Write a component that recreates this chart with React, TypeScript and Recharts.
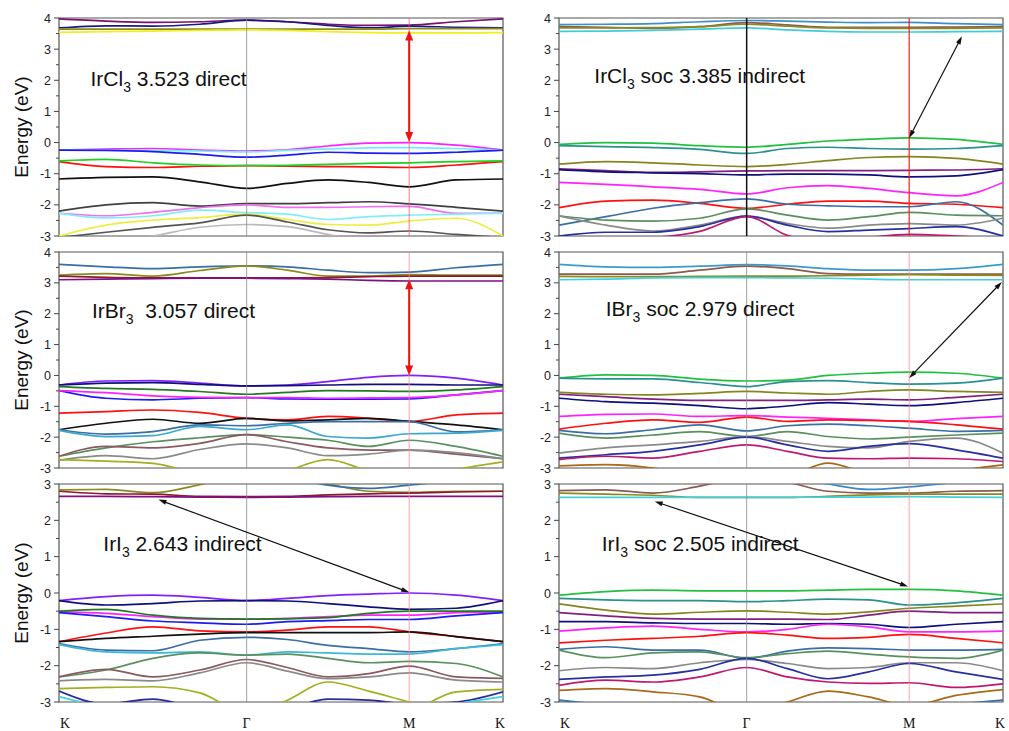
import React from 'react';
import { LineChart, Line, XAxis, YAxis, ReferenceLine, ReferenceArea } from 'recharts';

// k-path samples: K(0) -> Γ(1) -> M(1.866) -> K(2.366)
const K_PTS = [0, 0.25, 0.5, 0.75, 1, 1.217, 1.433, 1.65, 1.866, 2.116, 2.366];
const K_TICKS = [0, 1, 1.866, 2.366];
const K_LABELS = ['K', 'Γ', 'M', 'K'];
const Y_TICKS_TOP = [-3, -2.5, -2, -1.5, -1, -0.5, 0, 0.5, 1, 1.5, 2, 2.5, 3, 3.5, 4];
const Y_TICKS_BOT = [-3, -2.5, -2, -1.5, -1, -0.5, 0, 0.5, 1, 1.5, 2, 2.5, 3];

// ---------- IrCl3 ----------
const IRCL3_E = [
  [3.97, 3.9, 3.86, 3.88, 3.93, 3.88, 3.8, 3.76, 3.77, 3.88, 3.97],
  [3.68, 3.75, 3.74, 3.8, 3.93, 3.88, 3.76, 3.68, 3.74, 3.7, 3.68],
  [3.64, 3.64, 3.64, 3.64, 3.64, 3.64, 3.64, 3.64, 3.66, 3.66, 3.66],
  [3.54, 3.56, 3.58, 3.6, 3.62, 3.6, 3.56, 3.53, 3.52, 3.52, 3.53],
  [-0.24, -0.21, -0.19, -0.24, -0.27, -0.23, -0.11, -0.02, 0.0, -0.08, -0.24],
  [-0.24, -0.24, -0.25, -0.27, -0.3, -0.25, -0.2, -0.17, -0.16, -0.19, -0.24],
  [-0.24, -0.25, -0.29, -0.38, -0.47, -0.4, -0.31, -0.34, -0.35, -0.31, -0.24],
  [-0.61, -0.77, -0.8, -0.76, -0.74, -0.76, -0.77, -0.78, -0.8, -0.72, -0.61],
  [-0.59, -0.54, -0.65, -0.72, -0.74, -0.73, -0.7, -0.67, -0.65, -0.61, -0.59],
  [-1.17, -1.12, -1.1, -1.26, -1.47, -1.31, -1.2, -1.28, -1.42, -1.2, -1.17],
  [-2.2, -2.0, -1.93, -2.04, -1.96, -1.96, -1.93, -1.9, -1.97, -2.08, -2.2],
  [-2.27, -2.35, -2.24, -2.09, -2.0, -2.08, -2.08, -2.06, -2.05, -2.27, -2.27],
  [-2.27, -2.42, -2.35, -2.17, -2.25, -2.3, -2.47, -2.38, -2.33, -2.3, -2.27],
  [-3.0, -2.65, -2.49, -2.41, -2.3, -2.47, -2.63, -2.65, -2.52, -2.43, -3.0],
  [-3.05, -2.88, -2.72, -2.58, -2.33, -2.55, -2.8, -2.9, -2.84, -2.95, -3.05],
  [-3.4, -3.2, -3.0, -2.72, -2.63, -2.7, -2.95, -3.15, -3.2, -3.3, -3.4],
];
const IRCL3_COLORS = ['#7a1070', '#1a1a80', '#8a8a20', '#eeee22', '#ff20ff', '#70eef8', '#1c1cf0', '#ff1010', '#20d020', '#111111', '#404040', '#f070f0', '#80eef8', '#eeee40', '#555555', '#bbbbbb'];

// ---------- IrCl3 soc ----------
const IRCL3SOC_E = [
  [3.79, 3.8, 3.82, 3.88, 3.92, 3.9, 3.87, 3.85, 3.86, 3.82, 3.79],
  [3.72, 3.7, 3.67, 3.72, 3.85, 3.78, 3.7, 3.7, 3.7, 3.71, 3.72],
  [3.68, 3.68, 3.69, 3.72, 3.8, 3.74, 3.68, 3.67, 3.67, 3.67, 3.68],
  [3.57, 3.58, 3.6, 3.64, 3.68, 3.62, 3.57, 3.55, 3.55, 3.56, 3.57],
  [-0.06, 0.0, -0.02, -0.1, -0.15, -0.06, 0.05, 0.11, 0.15, 0.1, -0.06],
  [-0.1, -0.13, -0.16, -0.22, -0.35, -0.19, -0.15, -0.19, -0.21, -0.19, -0.1],
  [-0.69, -0.61, -0.65, -0.72, -0.77, -0.7, -0.58, -0.48, -0.45, -0.51, -0.69],
  [-0.84, -0.9, -0.96, -0.94, -0.91, -0.9, -0.9, -0.9, -0.89, -0.88, -0.84],
  [-0.87, -0.94, -0.97, -1.0, -1.04, -1.01, -1.01, -1.04, -1.1, -1.07, -0.87],
  [-1.28, -1.34, -1.42, -1.5, -1.65, -1.45, -1.38, -1.47, -1.61, -1.71, -1.28],
  [-2.09, -1.88, -1.85, -1.95, -2.11, -1.98, -1.88, -1.88, -1.95, -1.98, -2.09],
  [-2.65, -2.38, -2.11, -1.93, -1.81, -1.98, -2.03, -2.06, -2.06, -1.9, -2.65],
  [-2.35, -2.49, -2.52, -2.43, -2.13, -2.33, -2.49, -2.38, -2.24, -2.33, -2.35],
  [-2.35, -2.65, -2.84, -2.65, -2.36, -2.6, -2.75, -2.65, -2.6, -2.65, -2.43],
  [-3.0, -2.88, -2.88, -2.7, -2.36, -2.65, -2.86, -2.81, -2.76, -2.7, -3.0],
  [-3.1, -3.1, -3.05, -2.85, -2.38, -2.98, -3.2, -3.05, -2.95, -3.0, -3.1],
];
const IRCL3SOC_COLORS = ['#3f8fc8', '#8c5a50', '#8a8a20', '#40ccd8', '#22c040', '#2a9090', '#858520', '#802080', '#10107a', '#ff22ff', '#ff1010', '#3a6ea5', '#5a9060', '#8a8a8a', '#2830a0', '#c01870'];

// ---------- IrBr3 ----------
const IRBR3_E = [
  [3.6, 3.52, 3.46, 3.52, 3.55, 3.52, 3.41, 3.33, 3.35, 3.49, 3.6],
  [3.25, 3.3, 3.22, 3.4, 3.55, 3.41, 3.22, 3.22, 3.27, 3.25, 3.25],
  [3.22, 3.18, 3.16, 3.16, 3.16, 3.16, 3.17, 3.2, 3.22, 3.22, 3.22],
  [3.1, 3.12, 3.14, 3.15, 3.15, 3.14, 3.12, 3.08, 3.06, 3.06, 3.06],
  [-0.31, -0.18, -0.17, -0.25, -0.34, -0.31, -0.2, -0.06, 0.0, -0.09, -0.31],
  [-0.31, -0.25, -0.23, -0.29, -0.34, -0.33, -0.31, -0.29, -0.29, -0.31, -0.31],
  [-0.36, -0.42, -0.45, -0.52, -0.61, -0.55, -0.49, -0.5, -0.52, -0.47, -0.36],
  [-0.49, -0.74, -0.79, -0.74, -0.72, -0.76, -0.77, -0.77, -0.76, -0.63, -0.49],
  [-0.49, -0.56, -0.66, -0.71, -0.72, -0.72, -0.74, -0.73, -0.72, -0.63, -0.49],
  [-1.22, -1.17, -1.12, -1.2, -1.39, -1.44, -1.33, -1.39, -1.49, -1.28, -1.22],
  [-1.76, -1.55, -1.42, -1.55, -1.39, -1.47, -1.44, -1.39, -1.49, -1.6, -1.76],
  [-1.76, -1.9, -1.82, -1.6, -1.63, -1.55, -1.5, -1.5, -1.5, -1.83, -1.76],
  [-1.78, -1.98, -1.95, -1.65, -1.76, -1.6, -1.98, -2.03, -1.89, -1.87, -1.78],
  [-2.62, -2.35, -2.15, -2.02, -1.92, -2.0, -2.1, -2.3, -2.1, -2.3, -2.62],
  [-2.62, -2.3, -2.35, -2.2, -1.92, -2.15, -2.35, -2.42, -2.42, -2.55, -2.7],
  [-2.75, -2.6, -2.7, -2.4, -2.22, -2.35, -2.6, -2.55, -2.42, -2.5, -2.7],
  [-2.73, -2.78, -2.85, -3.2, -3.5, -3.4, -3.3, -3.3, -3.4, -3.05, -2.8],
  [-4.0, -4.0, -4.0, -3.8, -3.6, -3.1, -2.73, -3.1, -3.4, -3.6, -3.8],
];
const IRBR3_COLORS = ['#3a6ea5', '#8a8a20', '#8b1a30', '#801080', '#8020ff', '#10107a', '#207a20', '#1c1cf0', '#ff22ff', '#ff1010', '#111111', '#3a6ea5', '#3aa8d0', '#5a9060', '#8a5a60', '#8a8a8a', '#a0b020', '#a0b020'];

// ---------- IBr3 soc ----------
const IBR3SOC_E = [
  [3.6, 3.52, 3.5, 3.54, 3.59, 3.55, 3.46, 3.41, 3.41, 3.46, 3.6],
  [3.28, 3.28, 3.28, 3.41, 3.54, 3.46, 3.3, 3.28, 3.28, 3.28, 3.28],
  [3.21, 3.2, 3.2, 3.21, 3.22, 3.22, 3.23, 3.25, 3.27, 3.25, 3.24],
  [3.1, 3.12, 3.16, 3.17, 3.17, 3.16, 3.15, 3.12, 3.1, 3.1, 3.1],
  [-0.09, 0.02, 0.0, -0.12, -0.18, -0.15, 0.0, 0.07, 0.11, 0.07, -0.09],
  [-0.09, -0.11, -0.11, -0.23, -0.36, -0.2, -0.17, -0.23, -0.28, -0.25, -0.09],
  [-0.55, -0.61, -0.63, -0.58, -0.52, -0.57, -0.61, -0.52, -0.47, -0.52, -0.55],
  [-0.61, -0.69, -0.77, -0.81, -0.81, -0.81, -0.79, -0.77, -0.79, -0.71, -0.61],
  [-0.74, -0.85, -0.9, -0.98, -1.08, -0.99, -0.88, -0.93, -0.98, -0.88, -0.74],
  [-1.33, -1.26, -1.25, -1.33, -1.3, -1.35, -1.39, -1.44, -1.49, -1.4, -1.33],
  [-1.74, -1.55, -1.44, -1.52, -1.35, -1.49, -1.44, -1.46, -1.49, -1.6, -1.74],
  [-1.78, -1.89, -1.76, -1.6, -1.8, -1.63, -1.58, -1.63, -1.71, -1.81, -1.78],
  [-1.87, -2.03, -1.93, -1.82, -1.98, -1.82, -1.98, -2.06, -2.0, -1.93, -1.87],
  [-2.52, -2.35, -2.25, -2.14, -1.98, -2.14, -2.3, -2.35, -2.14, -2.03, -2.52],
  [-2.68, -2.57, -2.46, -2.25, -2.0, -2.25, -2.46, -2.3, -2.21, -2.41, -2.68],
  [-2.73, -2.62, -2.68, -2.46, -2.25, -2.46, -2.68, -2.7, -2.68, -2.7, -2.79],
  [-2.93, -2.89, -3.0, -3.3, -3.5, -3.3, -2.84, -3.2, -3.4, -3.1, -2.9],
];
const IBR3SOC_COLORS = ['#3a9ac8', '#8c5a50', '#8a8a20', '#40d0e0', '#22c040', '#2a9090', '#858520', '#802080', '#10107a', '#ff22ff', '#ff1010', '#3a6ea5', '#5a9060', '#8a8a8a', '#2830a0', '#c01870', '#a86a18'];

// ---------- IrI3 ----------
const IRI3_E = [
  [2.84, 2.85, 2.76, 2.98, 3.3, 3.2, 3.0, 2.8, 2.77, 2.8, 2.8],
  [2.8, 2.73, 2.72, 2.66, 2.65, 2.66, 2.7, 2.73, 2.75, 2.78, 2.8],
  [2.66, 2.66, 2.65, 2.64, 2.63, 2.64, 2.65, 2.66, 2.66, 2.66, 2.66],
  [3.3, 3.3, 3.4, 3.4, 3.4, 3.2, 2.97, 2.88, 2.97, 3.1, 3.2],
  [-0.21, -0.1, -0.06, -0.12, -0.21, -0.15, -0.07, -0.03, 0.0, -0.06, -0.21],
  [-0.21, -0.33, -0.29, -0.22, -0.21, -0.22, -0.29, -0.38, -0.45, -0.42, -0.21],
  [-0.52, -0.56, -0.65, -0.72, -0.72, -0.7, -0.65, -0.61, -0.61, -0.54, -0.52],
  [-0.5, -0.45, -0.61, -0.7, -0.72, -0.71, -0.68, -0.56, -0.5, -0.5, -0.5],
  [-0.54, -0.65, -0.77, -0.82, -0.86, -0.79, -0.76, -0.73, -0.73, -0.63, -0.54],
  [-1.34, -1.1, -0.93, -1.04, -1.07, -1.02, -0.93, -0.93, -1.07, -1.2, -1.34],
  [-1.34, -1.25, -1.19, -1.13, -1.09, -1.09, -1.09, -1.09, -1.07, -1.2, -1.34],
  [-1.39, -1.57, -1.59, -1.3, -1.22, -1.28, -1.44, -1.53, -1.62, -1.53, -1.39],
  [-1.42, -1.62, -1.65, -1.62, -1.71, -1.62, -1.65, -1.68, -1.68, -1.53, -1.42],
  [-2.31, -2.12, -1.8, -1.65, -1.71, -1.68, -1.8, -1.92, -1.88, -1.94, -2.31],
  [-2.31, -2.1, -2.31, -2.12, -1.83, -2.05, -2.31, -2.22, -2.01, -2.31, -2.35],
  [-2.42, -2.38, -2.42, -2.2, -1.92, -2.15, -2.36, -2.31, -2.2, -2.4, -2.45],
  [-2.63, -2.6, -2.58, -2.75, -3.4, -3.6, -3.6, -3.6, -3.3, -2.72, -2.65],
  [-3.6, -3.6, -3.6, -3.6, -3.4, -2.95, -2.45, -2.7, -3.0, -3.3, -3.6],
  [-2.7, -3.05, -2.92, -3.2, -3.4, -3.2, -2.92, -2.95, -3.05, -3.0, -2.72],
  [-2.85, -3.15, -3.3, -3.4, -3.4, -3.4, -3.4, -3.4, -3.3, -3.05, -2.85],
];
const IRI3_COLORS = ['#8a8a20', '#8b1a30', '#801080', '#3a6ea5', '#8020ff', '#10107a', '#ff22ff', '#207a20', '#1c1cf0', '#ff1010', '#111111', '#3a6ea5', '#3ab8d8', '#5a9060', '#8a5a60', '#8a8a8a', '#a0b020', '#a0b020', '#2a2aa0', '#40d0e0'];

// ---------- IrI3 soc ----------
const IRI3SOC_E = [
  [2.82, 2.84, 2.75, 2.94, 3.2, 3.05, 2.8, 2.75, 2.75, 2.8, 2.82],
  [2.75, 2.72, 2.69, 2.63, 2.63, 2.63, 2.66, 2.7, 2.72, 2.72, 2.72],
  [2.63, 2.63, 2.63, 2.63, 2.63, 2.63, 2.64, 2.64, 2.65, 2.64, 2.63],
  [3.3, 3.3, 3.4, 3.4, 3.4, 3.2, 3.0, 2.85, 2.92, 3.05, 3.2],
  [-0.06, 0.04, 0.08, 0.06, 0.06, 0.06, 0.08, 0.1, 0.1, 0.06, -0.06],
  [-0.15, -0.19, -0.21, -0.21, -0.24, -0.21, -0.17, -0.19, -0.33, -0.27, -0.15],
  [-0.3, -0.47, -0.58, -0.53, -0.49, -0.53, -0.58, -0.52, -0.42, -0.36, -0.3],
  [-0.54, -0.63, -0.7, -0.72, -0.72, -0.72, -0.73, -0.61, -0.5, -0.54, -0.54],
  [-0.79, -0.79, -0.82, -0.84, -0.84, -0.86, -0.84, -0.86, -0.95, -0.86, -0.79],
  [-1.05, -0.96, -0.91, -1.0, -1.07, -1.0, -0.86, -0.93, -1.07, -1.07, -1.05],
  [-1.37, -1.3, -1.25, -1.19, -1.09, -1.16, -1.25, -1.22, -1.14, -1.25, -1.37],
  [-1.55, -1.48, -1.57, -1.57, -1.8, -1.6, -1.51, -1.53, -1.57, -1.57, -1.55],
  [-1.57, -1.78, -1.65, -1.62, -1.78, -1.67, -1.6, -1.68, -1.76, -1.8, -1.57],
  [-2.14, -2.05, -2.08, -1.92, -1.83, -1.94, -2.08, -2.05, -1.92, -1.92, -2.14],
  [-2.38, -2.31, -2.26, -2.1, -1.8, -2.08, -2.36, -2.17, -1.94, -2.17, -2.38],
  [-2.54, -2.4, -2.45, -2.31, -2.05, -2.31, -2.45, -2.49, -2.47, -2.6, -2.5],
  [-2.68, -2.63, -2.72, -2.86, -3.3, -3.0, -2.7, -2.86, -3.1, -2.82, -2.66],
  [-2.95, -3.05, -3.05, -3.1, -3.2, -3.1, -3.02, -3.05, -3.1, -3.05, -2.95],
];
const IRI3SOC_COLORS = ['#8c5a50', '#8a8a20', '#40d0e0', '#3a8ac8', '#22c040', '#2a9090', '#858520', '#802080', '#10107a', '#ff22ff', '#ff1010', '#3a6ea5', '#5a9060', '#8a8a8a', '#2830a0', '#c01870', '#a86a18', '#3a6ea5'];

// arrows [k1, e1, k2, e2]
const ARROW_IRCL3 = [1.866, 0.02, 1.866, 3.6];
const ARROW_IRCL3SOC = [1.866, 0.15, 2.147, 3.41];
const ARROW_IRBR3 = [1.866, 0.0, 1.866, 3.12];
const ARROW_IBR3SOC = [1.866, -0.08, 2.36, 3.03];
const ARROW_IRI3 = [0.53, 2.57, 1.866, 0.02];
const ARROW_IRI3SOC = [0.51, 2.52, 1.86, 0.18];

const SANS = '"Liberation Sans", Arial, Helvetica, sans-serif';
const SERIF = '"Liberation Serif", "Times New Roman", serif';

const YTick = (props: any) => {
  const { x, y, payload } = props;
  const v = payload.value;
  const major = Math.abs(v - Math.round(v)) < 1e-6;
  return (
    <g>
      <line x1={x - (major ? 5 : 3)} x2={x} y1={y} y2={y} stroke="#444" strokeWidth={1} />
      {major && (
        <text x={x - 8} y={y} dy={4.5} textAnchor="end" fontSize={12.5} fill="#222" fontFamily={SANS}>
          {String(v)}
        </text>
      )}
    </g>
  );
};

const XTick = (props: any) => {
  const { x, y, index } = props;
  const dx = index === 0 ? 6 : index === K_LABELS.length - 1 ? -3 : 0;
  return (
    <text x={x + dx} y={y + 26} textAnchor="middle" fontSize={14} fill="#111" fontFamily={SERIF}>
      {K_LABELS[index]}
    </text>
  );
};

const makeArrow = (color: string, headLen: number, headW: number, sw: number) => (p: any) => {
  const x1 = Number(p.x1), y1 = Number(p.y1), x2 = Number(p.x2), y2 = Number(p.y2);
  const dx = x2 - x1, dy = y2 - y1;
  const L = Math.hypot(dx, dy) || 1;
  const ux = dx / L, uy = dy / L;
  const px = -uy, py = ux;
  const head = (tx: number, ty: number, dirx: number, diry: number) => {
    const bx = tx - dirx * headLen, by = ty - diry * headLen;
    return `${tx},${ty} ${bx + (px * headW) / 2},${by + (py * headW) / 2} ${bx - (px * headW) / 2},${by - (py * headW) / 2}`;
  };
  return (
    <g>
      <line x1={x1 + ux * headLen * 0.7} y1={y1 + uy * headLen * 0.7} x2={x2 - ux * headLen * 0.7} y2={y2 - uy * headLen * 0.7} stroke={color} strokeWidth={sw} />
      <polygon points={head(x2, y2, ux, uy)} fill={color} />
      <polygon points={head(x1, y1, -ux, -uy)} fill={color} />
    </g>
  );
};

type PanelProps = {
  left: number;
  top: number;
  height: number;
  mTop: number;
  mBottom: number;
  yMax: number;
  yTicks: number[];
  bands: number[][];
  colors: string[];
  showX: boolean;
  gammaColor: string;
  gammaWidth: number;
  mColor: string;
  mWidth: number;
  arrow: number[];
  arrowColor: string;
  arrowHead: [number, number, number];
};

const Panel = (p: PanelProps) => {
  const data = K_PTS.map((k, i) => {
    const row: any = { k };
    p.bands.forEach((b, j) => {
      row['b' + j] = b[i];
    });
    return row;
  });
  return (
    <div style={{ position: 'absolute', left: p.left, top: p.top }}>
      <LineChart width={509} height={p.height} data={data} margin={{ top: p.mTop, right: 6, bottom: p.mBottom, left: 0 }}>
        <XAxis
          dataKey="k"
          type="number"
          domain={[0, 2.366]}
          allowDataOverflow
          ticks={K_TICKS}
          interval={0}
          hide={!p.showX}
          height={29}
          axisLine={false}
          tickLine={false}
          tickSize={0}
          tickMargin={0}
          tick={<XTick />}
        />
        <YAxis
          type="number"
          domain={[-3, p.yMax]}
          allowDataOverflow
          ticks={p.yTicks}
          interval={0}
          width={59}
          axisLine={false}
          tickLine={false}
          tickSize={0}
          tickMargin={0}
          tick={<YTick />}
        />
        {p.bands.map((_, j) => (
          <Line
            key={j}
            dataKey={'b' + j}
            type="monotone"
            stroke={p.colors[j]}
            strokeWidth={1.7}
            dot={false}
            activeDot={false}
            isAnimationActive={false}
          />
        ))}
        <ReferenceLine x={1} stroke={p.gammaColor} strokeWidth={p.gammaWidth} />
        <ReferenceLine x={1.866} stroke={p.mColor} strokeWidth={p.mWidth} />
        <ReferenceArea x1={0} x2={2.366} y1={-3} y2={p.yMax} fill="none" fillOpacity={0} stroke="#555" strokeWidth={1.2} />
        <ReferenceLine
          segment={[
            { x: p.arrow[0], y: p.arrow[1] },
            { x: p.arrow[2], y: p.arrow[3] },
          ]}
          stroke={p.arrowColor}
          shape={makeArrow(p.arrowColor, p.arrowHead[0], p.arrowHead[1], p.arrowHead[2])}
        />
      </LineChart>
    </div>
  );
};

const Annot = ({ x, baseline, main, sub, rest }: { x: number; baseline: number; main: string; sub: string; rest: string }) => (
  <div
    style={{
      position: 'absolute',
      left: x,
      top: baseline - 18,
      fontFamily: SANS,
      fontSize: 21,
      lineHeight: '21px',
      whiteSpace: 'pre',
      color: '#111',
    }}
  >
    {main}
    <span style={{ fontSize: 14, position: 'relative', top: 6 }}>{sub}</span>
    {rest}
  </div>
);

const YTitle = ({ cy }: { cy: number }) => (
  <div
    style={{
      position: 'absolute',
      left: 22.4 - 100,
      top: cy - 12,
      width: 200,
      height: 24,
      lineHeight: '24px',
      textAlign: 'center',
      fontFamily: SANS,
      fontSize: 19,
      color: '#111',
      transform: 'rotate(-90deg)',
      whiteSpace: 'nowrap',
    }}
  >
    Energy (eV)
  </div>
);

export default function App() {
  const common = { gammaColor: '#8a8a8a', gammaWidth: 0.8, mColor: '#f09090', mWidth: 0.8 };
  return (
    <div style={{ position: 'absolute', left: 0, top: 0, width: 1009, height: 731, background: '#fff', overflow: 'hidden' }}>
      <Panel left={0} top={0} height={246} mTop={18} mBottom={10} yMax={4} yTicks={Y_TICKS_TOP} bands={IRCL3_E} colors={IRCL3_COLORS} showX={false}
        {...common} mColor="#f06060" arrow={ARROW_IRCL3} arrowColor="#ee1111" arrowHead={[10, 8, 2]} />
      <Panel left={500} top={0} height={246} mTop={18} mBottom={10} yMax={4} yTicks={Y_TICKS_TOP} bands={IRCL3SOC_E} colors={IRCL3SOC_COLORS} showX={false}
        {...common} gammaColor="#111" gammaWidth={1.5} mColor="#ee2020" mWidth={1.2} arrow={ARROW_IRCL3SOC} arrowColor="#111" arrowHead={[8, 5, 1.2]} />
      <Panel left={0} top={240} height={240} mTop={12} mBottom={12} yMax={4} yTicks={Y_TICKS_TOP} bands={IRBR3_E} colors={IRBR3_COLORS} showX={false}
        {...common} arrow={ARROW_IRBR3} arrowColor="#ee1111" arrowHead={[10, 8, 2]} />
      <Panel left={500} top={240} height={240} mTop={12} mBottom={12} yMax={4} yTicks={Y_TICKS_TOP} bands={IBR3SOC_E} colors={IBR3SOC_COLORS} showX={false}
        {...common} arrow={ARROW_IBR3SOC} arrowColor="#111" arrowHead={[8, 5, 1.2]} />
      <Panel left={0} top={476} height={255} mTop={8} mBottom={0} yMax={3} yTicks={Y_TICKS_BOT} bands={IRI3_E} colors={IRI3_COLORS} showX={true}
        {...common} arrow={ARROW_IRI3} arrowColor="#111" arrowHead={[8, 5, 1.2]} />
      <Panel left={500} top={476} height={255} mTop={8} mBottom={0} yMax={3} yTicks={Y_TICKS_BOT} bands={IRI3SOC_E} colors={IRI3SOC_COLORS} showX={true}
        {...common} arrow={ARROW_IRI3SOC} arrowColor="#111" arrowHead={[8, 5, 1.2]} />

      <YTitle cy={127} />
      <YTitle cy={360} />
      <YTitle cy={593} />

      <Annot x={90.5} baseline={86} main="IrCl" sub="3" rest=" 3.523 direct" />
      <Annot x={594.3} baseline={83} main="IrCl" sub="3" rest=" soc 3.385 indirect" />
      <Annot x={92} baseline={318} main="IrBr" sub="3" rest="  3.057 direct" />
      <Annot x={605.7} baseline={316} main="IBr" sub="3" rest=" soc 2.979 direct" />
      <Annot x={103.3} baseline={551} main="IrI" sub="3" rest=" 2.643 indirect" />
      <Annot x={601.7} baseline={551} main="IrI" sub="3" rest=" soc 2.505 indirect" />
    </div>
  );
}
